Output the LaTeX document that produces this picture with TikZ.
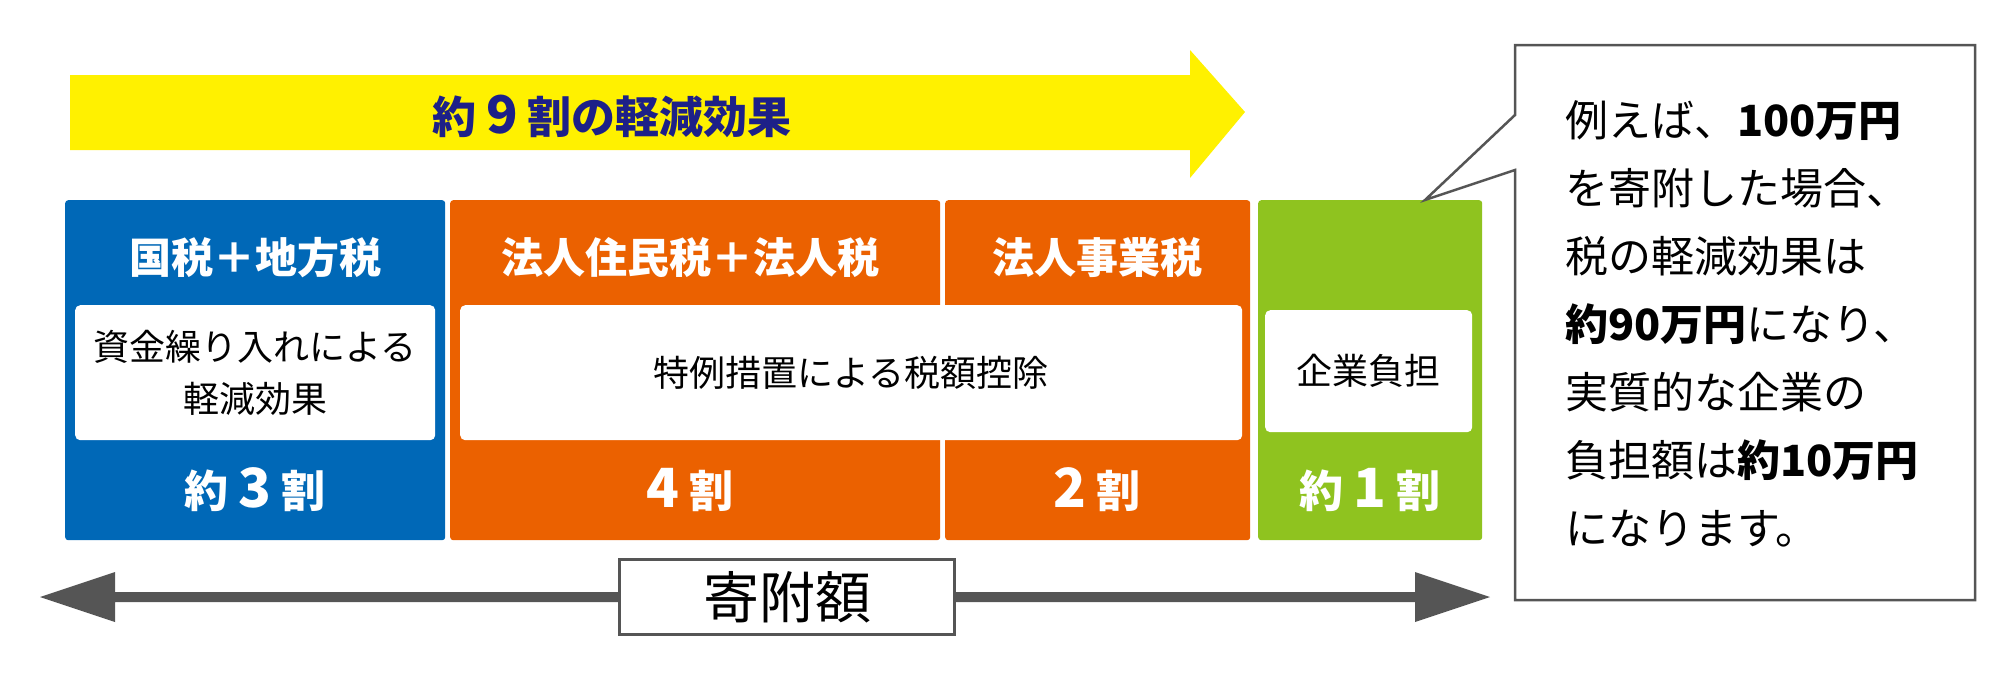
\documentclass[tikz,border=0pt]{standalone}
\usepackage{fontspec}
\setmainfont{Noto Sans CJK JP}
\definecolor{cblue}{HTML}{0068B7}
\definecolor{corange}{HTML}{EB6100}
\definecolor{cgreen}{HTML}{8FC31F}
\definecolor{cyellow}{HTML}{FFF100}
\definecolor{cnavy}{HTML}{1D2088}
\definecolor{cgray}{HTML}{555555}
\begin{document}
\begin{tikzpicture}[x=1pt,y=-1pt,
  colbox/.style={draw=none,rounded corners=3pt,anchor=north west,inner sep=0pt},
  whitebox/.style={fill=white,rounded corners=5pt,anchor=north west,inner sep=0pt,align=center,font=\fontsize{36}{52}\selectfont},
  head/.style={text=white,font=\fontsize{42}{48}\selectfont\bfseries},
  big/.style={text=white,font=\fontsize{44}{50}\selectfont\bfseries}]
\useasboundingbox (0,0) rectangle (2000,673);
% yellow arrow
\fill[cyellow] (70,75) -- (1190,75) -- (1190,50) -- (1245,112) -- (1190,178) -- (1190,150) -- (70,150) -- cycle;
\node[text=cnavy,font=\fontsize{44}{50}\selectfont\bfseries] (title) at (612,116) {約 {\fontsize{52}{56}\selectfont 9} 割の軽減効果};
% colour boxes
\node[colbox,fill=cblue,minimum width=380pt,minimum height=340pt] (b1) at (65,200) {};
\node[colbox,fill=corange,minimum width=490pt,minimum height=340pt] (b2) at (450,200) {};
\node[colbox,fill=corange,minimum width=305pt,minimum height=340pt] (b3) at (945,200) {};
\node[colbox,fill=cgreen,minimum width=224pt,minimum height=340pt] (b4) at (1258,200) {};
\node[head] (h1) at (255,258) {国税＋地方税};
\node[head] (h2) at (690,258) {法人住民税＋法人税};
\node[head] (h3) at (1097,258) {法人事業税};
\node[whitebox,minimum width=360pt,minimum height=135pt] (w1) at (75,305) {資金繰り入れによる\\軽減効果};
\node[whitebox,minimum width=782pt,minimum height=135pt] (w2) at (460,305) {特例措置による税額控除};
\node[whitebox,minimum width=207pt,minimum height=122pt] (w4) at (1265,310) {企業負担};
\node[big] (n1) at (255,490) {約 {\fontsize{54}{58}\selectfont 3} 割};
\node[big] (n2) at (690,490) {{\fontsize{54}{58}\selectfont 4} 割};
\node[big] (n3) at (1097,490) {{\fontsize{54}{58}\selectfont 2} 割};
\node[big] (n4) at (1370,490) {約 {\fontsize{54}{58}\selectfont 1} 割};
% double arrow
\coordinate (la) at (40,597);
\coordinate (ra) at (1490,597);
\fill[cgray] (la) -- (115,572) -- (115,592) -- (1415,592) -- (1415,572) -- (ra) -- (1415,622) -- (1415,602) -- (115,602) -- (115,622) -- cycle;
\node[draw=cgray,line width=2.5pt,fill=white,minimum width=335pt,minimum height=75pt,font=\fontsize{56}{60}\selectfont] (lbl) at (787,597) {寄附額};
% callout
\draw[cgray,line width=2.5pt,fill=white] (1515,45) -- (1975,45) -- (1975,600) -- (1515,600) -- (1515,170) -- (1425,200) -- (1515,115) -- cycle;
\node[anchor=north west,align=left,inner sep=0pt,font=\fontsize{43}{68}\selectfont] (txt) at (1565,100)
 {例えば、\textbf{100万円}\\を寄附した場合、\\税の軽減効果は\\\textbf{約90万円}になり、\\実質的な企業の\\負担額は\textbf{約10万円}\\になります。};
\end{tikzpicture}
\end{document}
